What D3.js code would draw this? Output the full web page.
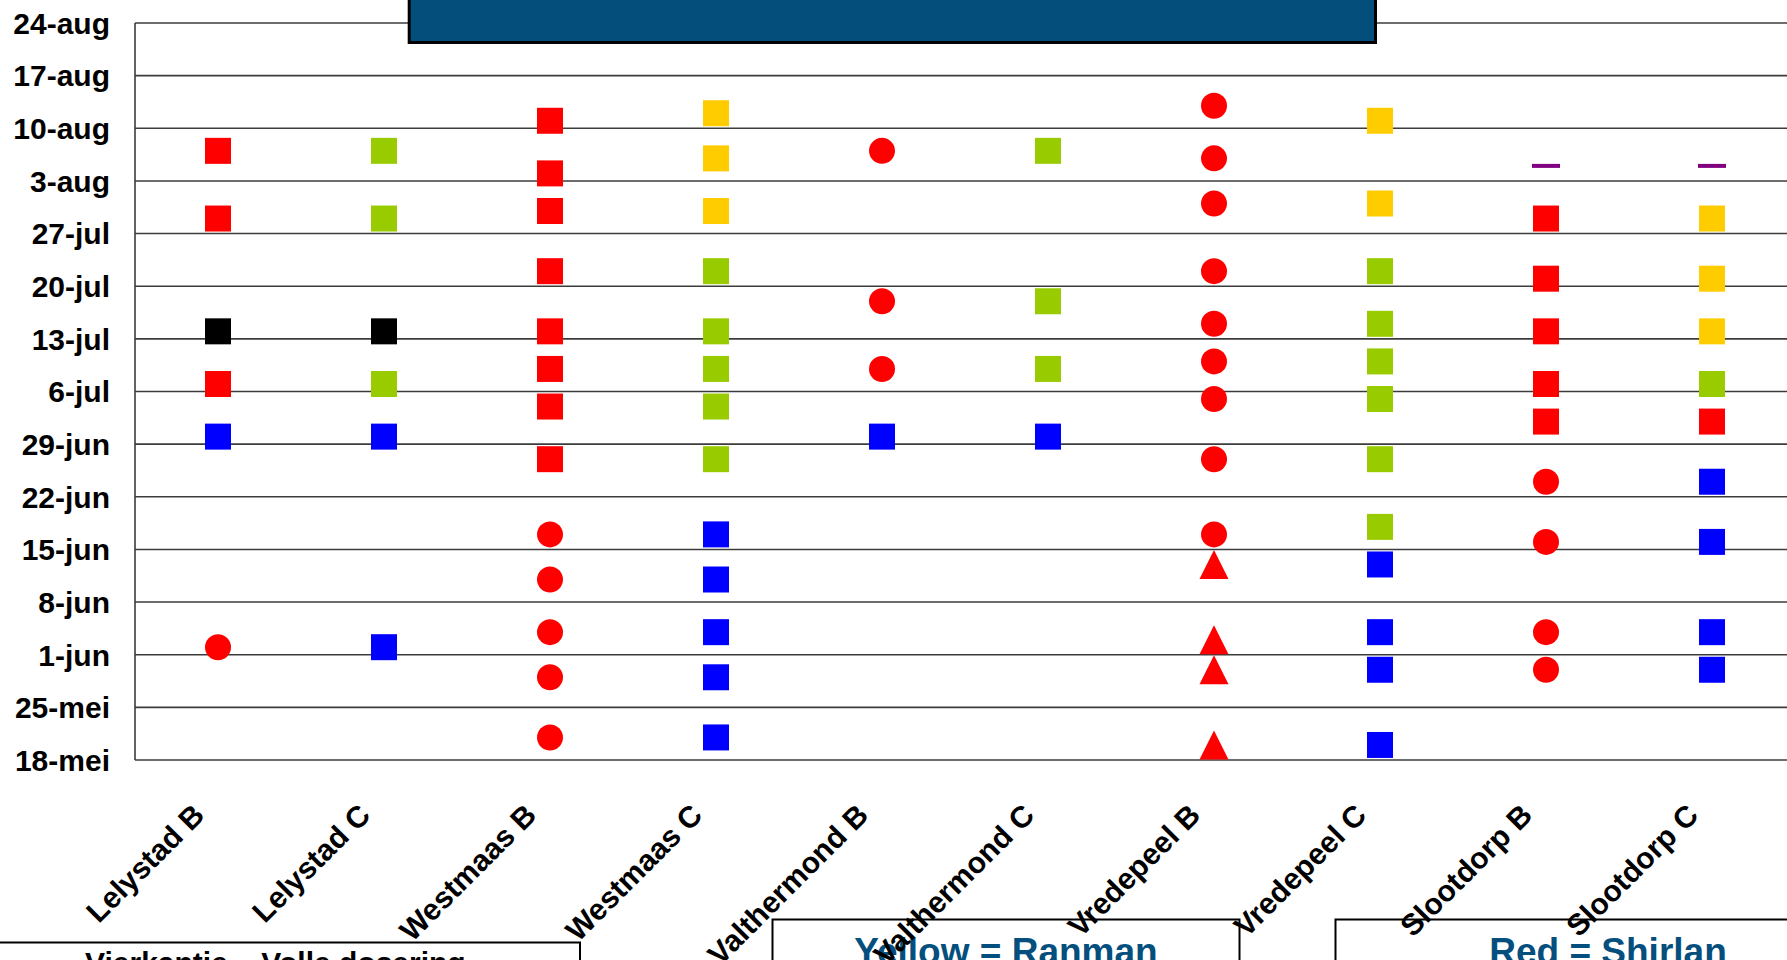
<!DOCTYPE html>
<html>
<head>
<meta charset="utf-8">
<script src="https://cdn.jsdelivr.net/npm/d3@7"></script>
<style>
  html, body { margin: 0; padding: 0; background: #ffffff; overflow: hidden; }
  svg { display: block; }
</style>
</head>
<body>
<svg id="chart" width="1787" height="960"></svg>
<script>
// ---------------- DATA ----------------
const categories = ["Lelystad B", "Lelystad C", "Westmaas B", "Westmaas C", "Valthermond B",
  "Valthermond C", "Vredepeel B", "Vredepeel C", "Slootdorp B", "Slootdorp C"];

const yTickDates = ["2009-05-18", "2009-05-25", "2009-06-01", "2009-06-08", "2009-06-15",
  "2009-06-22", "2009-06-29", "2009-07-06", "2009-07-13", "2009-07-20", "2009-07-27",
  "2009-08-03", "2009-08-10", "2009-08-17", "2009-08-24"];
const yTickLabels = ["18-mei", "25-mei", "1-jun", "8-jun", "15-jun", "22-jun", "29-jun",
  "6-jul", "13-jul", "20-jul", "27-jul", "3-aug", "10-aug", "17-aug", "24-aug"];

// Red squares (Shirlan, full dose)
const redSquares = [
  ["Lelystad B", "2009-08-07"], ["Lelystad B", "2009-07-29"], ["Lelystad B", "2009-07-07"],
  ["Westmaas B", "2009-08-11"], ["Westmaas B", "2009-08-04"], ["Westmaas B", "2009-07-30"],
  ["Westmaas B", "2009-07-22"], ["Westmaas B", "2009-07-14"], ["Westmaas B", "2009-07-09"],
  ["Westmaas B", "2009-07-04"], ["Westmaas B", "2009-06-27"],
  ["Slootdorp B", "2009-07-29"], ["Slootdorp B", "2009-07-21"], ["Slootdorp B", "2009-07-14"],
  ["Slootdorp B", "2009-07-07"], ["Slootdorp B", "2009-07-02"],
  ["Slootdorp C", "2009-07-02"]
];
// Red circles
const redCircles = [
  ["Lelystad B", "2009-06-02"],
  ["Westmaas B", "2009-06-17"], ["Westmaas B", "2009-06-11"], ["Westmaas B", "2009-06-04"],
  ["Westmaas B", "2009-05-29"], ["Westmaas B", "2009-05-21"],
  ["Valthermond B", "2009-08-07"], ["Valthermond B", "2009-07-18"], ["Valthermond B", "2009-07-09"],
  ["Vredepeel B", "2009-08-13"], ["Vredepeel B", "2009-08-06"], ["Vredepeel B", "2009-07-31"],
  ["Vredepeel B", "2009-07-22"], ["Vredepeel B", "2009-07-15"], ["Vredepeel B", "2009-07-10"],
  ["Vredepeel B", "2009-07-05"], ["Vredepeel B", "2009-06-27"], ["Vredepeel B", "2009-06-17"],
  ["Slootdorp B", "2009-06-24"], ["Slootdorp B", "2009-06-16"], ["Slootdorp B", "2009-06-04"],
  ["Slootdorp B", "2009-05-30"]
];
// Red triangles
const redTriangles = [
  ["Vredepeel B", "2009-06-13"], ["Vredepeel B", "2009-06-03"], ["Vredepeel B", "2009-05-30"],
  ["Vredepeel B", "2009-05-20"]
];
// Green squares
const greenSquares = [
  ["Lelystad C", "2009-08-07"], ["Lelystad C", "2009-07-29"], ["Lelystad C", "2009-07-07"],
  ["Westmaas C", "2009-07-22"], ["Westmaas C", "2009-07-14"], ["Westmaas C", "2009-07-09"],
  ["Westmaas C", "2009-07-04"], ["Westmaas C", "2009-06-27"],
  ["Valthermond C", "2009-08-07"], ["Valthermond C", "2009-07-18"], ["Valthermond C", "2009-07-09"],
  ["Vredepeel C", "2009-07-22"], ["Vredepeel C", "2009-07-15"], ["Vredepeel C", "2009-07-10"],
  ["Vredepeel C", "2009-07-05"], ["Vredepeel C", "2009-06-27"], ["Vredepeel C", "2009-06-18"],
  ["Slootdorp C", "2009-07-07"]
];
// Yellow squares (Ranman)
const yellowSquares = [
  ["Westmaas C", "2009-08-12"], ["Westmaas C", "2009-08-06"], ["Westmaas C", "2009-07-30"],
  ["Vredepeel C", "2009-08-11"], ["Vredepeel C", "2009-07-31"],
  ["Slootdorp C", "2009-07-29"], ["Slootdorp C", "2009-07-21"], ["Slootdorp C", "2009-07-14"]
];
// Black squares
const blackSquares = [
  ["Lelystad B", "2009-07-14"], ["Lelystad C", "2009-07-14"]
];
// Blue squares
const blueSquares = [
  ["Lelystad B", "2009-06-30"],
  ["Lelystad C", "2009-06-30"], ["Lelystad C", "2009-06-02"],
  ["Westmaas C", "2009-06-17"], ["Westmaas C", "2009-06-11"], ["Westmaas C", "2009-06-04"],
  ["Westmaas C", "2009-05-29"], ["Westmaas C", "2009-05-21"],
  ["Valthermond B", "2009-06-30"], ["Valthermond C", "2009-06-30"],
  ["Vredepeel C", "2009-06-13"], ["Vredepeel C", "2009-06-04"], ["Vredepeel C", "2009-05-30"],
  ["Vredepeel C", "2009-05-20"],
  ["Slootdorp C", "2009-06-24"], ["Slootdorp C", "2009-06-16"], ["Slootdorp C", "2009-06-04"],
  ["Slootdorp C", "2009-05-30"]
];
// Purple dashes
const purpleDashes = [
  ["Slootdorp B", "2009-08-05"], ["Slootdorp C", "2009-08-05"]
];

const legendTexts = ["Vierkantje \u2013 Volle dosering", "Yellow = Ranman", "Red = Shirlan"];

// ---------------- CHART ----------------
const parse = d3.timeParse("%Y-%m-%d");
const svg = d3.select("#chart");
const FONT = "'Liberation Sans', Arial, Helvetica, sans-serif";

const plot = { left: 135, right: 1795, top: 23, bottom: 760 };

const x = d3.scaleBand().domain(categories).range([plot.left, plot.right]).padding(0);
const y = d3.scaleTime()
  .domain([parse(yTickDates[0]), parse(yTickDates[yTickDates.length - 1])])
  .range([plot.bottom, plot.top]);

// Gridlines
const tickVals = yTickDates.map(parse);
svg.append("g").selectAll("line").data(tickVals).join("line")
  .attr("x1", plot.left).attr("x2", plot.right)
  .attr("y1", d => y(d)).attr("y2", d => y(d))
  .attr("stroke", "#3c3c3c").attr("stroke-width", 1.6);

// Y axis line
svg.append("line")
  .attr("x1", plot.left).attr("x2", plot.left)
  .attr("y1", plot.top).attr("y2", plot.bottom)
  .attr("stroke", "#3c3c3c").attr("stroke-width", 1.6);

// Y tick labels
const labelOf = new Map(yTickDates.map((d, i) => [d, yTickLabels[i]]));
svg.append("g").selectAll("text").data(yTickDates).join("text")
  .attr("x", 110).attr("y", d => y(parse(d)))
  .attr("dy", "0.36em")
  .attr("text-anchor", "end")
  .attr("font-family", FONT).attr("font-weight", "bold").attr("font-size", 30)
  .attr("fill", "#000")
  .text(d => labelOf.get(d));

// Legend boxes (behind the category labels)
const legend = svg.append("g");
legend.append("rect").attr("x", -30).attr("y", 942.5).attr("width", 610).attr("height", 60)
  .attr("fill", "none").attr("stroke", "#000").attr("stroke-width", 2);
legend.append("text").attr("x", 85).attr("y", 973)
  .attr("font-family", FONT).attr("font-weight", "bold").attr("font-size", 30).attr("fill", "#000")
  .text(legendTexts[0]);
legend.append("rect").attr("x", 772.5).attr("y", 919.5).attr("width", 467).attr("height", 80)
  .attr("fill", "none").attr("stroke", "#000").attr("stroke-width", 2);
legend.append("text").attr("x", 1006).attr("y", 964).attr("text-anchor", "middle")
  .attr("font-family", FONT).attr("font-weight", "bold").attr("font-size", 37).attr("fill", "#044f7d")
  .text(legendTexts[1]);
legend.append("rect").attr("x", 1335.5).attr("y", 919.5).attr("width", 546).attr("height", 80)
  .attr("fill", "none").attr("stroke", "#000").attr("stroke-width", 2);
legend.append("text").attr("x", 1608).attr("y", 964).attr("text-anchor", "middle")
  .attr("font-family", FONT).attr("font-weight", "bold").attr("font-size", 37).attr("fill", "#044f7d")
  .text(legendTexts[2]);

// X category labels
svg.append("g").selectAll("text").data(categories).join("text")
  .attr("transform", d => `translate(${x(d) + x.bandwidth() / 2 - 12},817) rotate(-45)`)
  .attr("text-anchor", "end")
  .attr("font-family", FONT).attr("font-weight", "bold").attr("font-size", 30)
  .attr("fill", "#000")
  .text(d => d);

// Markers
const SQ = 26, R = 13, TRI_W = 29, TRI_H = 29, DASH_W = 28, DASH_H = 4;
const shapes = {
  square: `M${-SQ/2},${-SQ/2}h${SQ}v${SQ}h${-SQ}Z`,
  circle: d3.symbol().type(d3.symbolCircle).size(Math.PI * R * R)(),
  triangle: `M0,${-TRI_H/2}L${TRI_W/2},${TRI_H/2}L${-TRI_W/2},${TRI_H/2}Z`,
  dash: `M${-DASH_W/2},${-DASH_H/2}h${DASH_W}v${DASH_H}h${-DASH_W}Z`
};
const series = [
  { data: blueSquares, shape: "square", color: "#0000FF" },
  { data: greenSquares, shape: "square", color: "#99CC00" },
  { data: yellowSquares, shape: "square", color: "#FFCC00" },
  { data: blackSquares, shape: "square", color: "#000000" },
  { data: redSquares, shape: "square", color: "#FF0000" },
  { data: redCircles, shape: "circle", color: "#FF0000" },
  { data: redTriangles, shape: "triangle", color: "#FF0000" },
  { data: purpleDashes, shape: "dash", color: "#800080" }
];
const markers = svg.append("g");
series.forEach(s => {
  markers.append("g").selectAll("path").data(s.data).join("path")
    .attr("d", shapes[s.shape])
    .attr("transform", d => `translate(${x(d[0]) + x.bandwidth() / 2},${y(parse(d[1]))})`)
    .attr("fill", s.color);
});

// Title bar (its text is above the visible area)
svg.append("rect")
  .attr("x", 409.2).attr("y", -20).attr("width", 966.3).attr("height", 62.5)
  .attr("fill", "#034e7a").attr("stroke", "#000").attr("stroke-width", 3);
</script>
</body>
</html>
